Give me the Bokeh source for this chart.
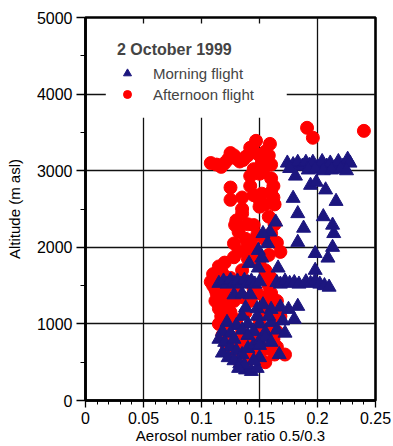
from bokeh.plotting import figure
from bokeh.models import Range1d, FixedTicker, Legend, LegendItem, BoxAnnotation
from bokeh.embed import file_html
from bokeh.resources import INLINE

# ---------------- data ----------------
afternoon_ratio = [
    0.191, 0.196, 0.240,
    0.108, 0.113, 0.117, 0.120, 0.123, 0.125, 0.128, 0.130, 0.133, 0.136, 0.138, 0.140, 0.142,
    0.145, 0.147, 0.150, 0.152, 0.155, 0.159, 0.158, 0.160, 0.145, 0.142, 0.150, 0.153, 0.160, 0.162,
    0.125, 0.125, 0.142, 0.145, 0.150, 0.152, 0.160, 0.162, 0.163, 0.135, 0.150, 0.155, 0.135, 0.129,
    0.145, 0.132, 0.138, 0.140, 0.148, 0.155, 0.160, 0.168, 0.128, 0.138, 0.145, 0.150, 0.158, 0.165,
    0.135, 0.155, 0.118, 0.112, 0.110, 0.113, 0.112, 0.115, 0.117, 0.120, 0.122, 0.125, 0.128, 0.130,
    0.133, 0.136, 0.140, 0.143, 0.145, 0.148, 0.150, 0.152, 0.155, 0.158, 0.160, 0.156, 0.160, 0.163,
    0.160, 0.162, 0.165, 0.172, 0.157, 0.150, 0.120, 0.125, 0.130, 0.140, 0.145, 0.135, 0.128, 0.120,
    0.125, 0.130, 0.138, 0.142, 0.148, 0.155, 0.125, 0.135, 0.140, 0.132, 0.137, 0.145, 0.118, 0.163,
    0.165,
    0.112, 0.108, 0.110, 0.115, 0.120, 0.118, 0.115, 0.118, 0.122, 0.127, 0.160, 0.165, 0.168, 0.163,
    0.155, 0.130, 0.135, 0.140, 0.158, 0.163, 0.128, 0.132, 0.140, 0.150,
]
afternoon_alt = [
    3560, 3430, 3520,
    3100, 3080, 3050, 3100, 3150, 3230, 3200, 3160, 3120, 3140, 3180, 3200, 3300,
    3250, 3390, 3200, 3100, 3250, 3350, 3200, 3080, 3020, 2930, 2960, 2980, 2900, 2800,
    2780, 2620, 2800, 2680, 2620, 2700, 2720, 2650, 2560, 2500, 2530, 2560, 2440, 2290,
    2290, 2200, 2110, 2050, 2160, 2100, 2180, 1940, 1870, 1950, 2000, 1880, 1900, 2060,
    1700, 1700, 1660, 1570, 1500, 1400, 1300, 1200, 1100, 1000, 900, 800, 700, 600,
    500, 440, 520, 650, 760, 900, 1050, 1200, 1350, 1500, 1600, 1250, 1130, 1050,
    950, 800, 700, 600, 680, 600, 1450, 1600, 1500, 1550, 1450, 1350, 1300, 1250,
    1150, 1050, 1150, 1300, 1400, 1600, 1000, 900, 800, 750, 650, 560, 1350, 1200,
    900,
    1450, 1550, 1650, 1750, 1800, 1150, 1000, 850, 700, 600, 1400, 1300, 1100, 600,
    500, 2350, 2650, 2300, 2400, 2300, 2050, 1950, 1850, 1780,
]

morning_ratio = [
    0.174, 0.179, 0.183, 0.187, 0.190, 0.193, 0.196, 0.200, 0.204, 0.208, 0.211, 0.215, 0.218, 0.222,
    0.226, 0.228, 0.176, 0.192, 0.198, 0.205, 0.212, 0.220, 0.225,
    0.181, 0.194, 0.199, 0.207, 0.179, 0.216, 0.183, 0.205, 0.188, 0.213, 0.214, 0.183, 0.213, 0.198,
    0.209, 0.198, 0.164, 0.159, 0.153, 0.157, 0.149, 0.152, 0.141, 0.149, 0.166,
    0.115, 0.119, 0.122, 0.125, 0.128, 0.131, 0.134, 0.137, 0.140, 0.143, 0.146, 0.150, 0.165, 0.168,
    0.172, 0.176, 0.180, 0.184, 0.190, 0.194, 0.198, 0.202, 0.206, 0.210,
    0.128, 0.135, 0.142,
    0.183, 0.175, 0.168, 0.160, 0.148, 0.138, 0.135, 0.148, 0.180, 0.170, 0.160, 0.150, 0.140, 0.130,
    0.122, 0.118, 0.125, 0.135, 0.145, 0.155, 0.165, 0.172, 0.158, 0.153,
    0.115, 0.120, 0.125, 0.130, 0.135, 0.140, 0.145, 0.150, 0.155, 0.160, 0.118, 0.123, 0.128, 0.133,
    0.138, 0.143, 0.148, 0.150, 0.145, 0.167, 0.150, 0.128, 0.140, 0.137, 0.132,
]
morning_alt = [
    3100, 3080, 3110, 3060, 3110, 3070, 3110, 3050, 3120, 3060, 3100, 3040, 3120, 3060,
    3150, 3100, 3030, 3010, 3020, 3000, 3010, 3020, 3000,
    2930, 2810, 2850, 2750, 2640, 2600, 2440, 2400, 2250, 2290, 2180, 2065, 2000, 1920,
    1860, 1700, 2330, 2200, 2180, 2050, 1960, 1860, 1790, 1730, 1730,
    1530, 1560, 1520, 1570, 1530, 1560, 1520, 1570, 1540, 1560, 1520, 1550, 1540, 1520,
    1560, 1530, 1540, 1520, 1550, 1530, 1560, 1520, 1500, 1480,
    1380, 1390, 1380,
    1230, 1190, 1220, 1190, 1200, 1210, 1100, 1100, 1060, 1040, 1020, 1000, 1000, 980,
    1020, 900, 880, 920, 900, 890, 920, 880, 1100, 1250,
    800, 760, 700, 650, 600, 680, 720, 780, 820, 760, 620, 560, 520, 480,
    400, 380, 420, 560, 520, 600, 720, 800, 850, 460, 420,
]

x_ticks = [0, 0.05, 0.1, 0.15, 0.2, 0.25]
x_tick_labels = ["0", "0.05", "0.1", "0.15", "0.2", "0.25"]
x_minor = [round(i * 0.01, 2) for i in range(26)]
y_ticks = [0, 1000, 2000, 3000, 4000, 5000]
y_minor = [500, 1500, 2500, 3500, 4500]

title_text = "2 October 1999"
morning_label = "Morning flight"
afternoon_label = "Afternoon flight"

FONT = "Liberation Sans"

# ---------------- figure ----------------
p = figure(width=393, height=446, x_range=Range1d(0, 0.25), y_range=Range1d(0, 5000),
           output_backend="svg", toolbar_location=None,
           min_border_left=85, min_border_right=18, min_border_top=17, min_border_bottom=45)
p.background_fill_color = "white"
p.border_fill_color = "white"
p.outline_line_color = "black"
p.outline_line_width = 2.6
p.outline_line_alpha = 1.0

# grid
for g, t in ((p.xgrid, x_ticks), (p.ygrid, y_ticks)):
    g.ticker = FixedTicker(ticks=t)
    g.grid_line_color = "#111111"
    g.grid_line_width = 1.3

# white area under the legend (hides the grid there, leaving short tick-like stubs at the top)
p.add_layout(BoxAnnotation(left=0.0175, right=0.1735, bottom=3690, top=4922,
                           fill_color="white", fill_alpha=1.0, line_color=None,
                           level="underlay"))

# axes
xa = p.xaxis[0]
xa.ticker = FixedTicker(ticks=x_ticks, minor_ticks=x_minor)
xa.major_label_overrides = {t: l for t, l in zip(x_ticks, x_tick_labels)}
xa.axis_label = "Aerosol number ratio 0.5/0.3"
ya = p.yaxis[0]
ya.ticker = FixedTicker(ticks=y_ticks, minor_ticks=y_minor)
ya.axis_label = "Altitude (m asl)"
for ax in (xa, ya):
    ax.axis_line_width = 2.6
    ax.axis_line_color = "black"
    ax.major_tick_line_color = "black"
    ax.minor_tick_line_color = "black"
    ax.major_tick_line_width = 1.3
    ax.minor_tick_line_width = 1
    ax.major_tick_in = 0
    ax.minor_tick_in = 0
    ax.major_label_text_font = FONT
    ax.major_label_text_font_size = "16px"
    ax.major_label_text_color = "black"
    ax.axis_label_text_font = FONT
    ax.axis_label_text_font_size = "15px"
    ax.axis_label_text_font_style = "normal"
    ax.axis_label_text_color = "black"
xa.major_tick_out = 7
xa.minor_tick_out = 4
xa.major_label_standoff = 4
xa.axis_label_standoff = 0
ya.major_tick_out = 9
ya.minor_tick_out = 5
ya.major_label_standoff = 4
ya.axis_label_standoff = 11

# data
r_aft = p.scatter(afternoon_ratio, afternoon_alt, marker="circle", size=13,
                  fill_color="#ff0000", line_color="#ff0000")
r_mor = p.scatter(morning_ratio, morning_alt, marker="triangle", size=14,
                  fill_color="#1c167f", line_color="#1c167f")

legend = Legend(items=[LegendItem(label=morning_label, renderers=[r_mor]),
                       LegendItem(label=afternoon_label, renderers=[r_aft])],
                location=(32, 296), title=title_text)
legend.title_text_font = FONT
legend.title_text_font_size = "16px"
legend.title_text_font_style = "bold"
legend.title_standoff = 4
legend.label_text_font = FONT
legend.label_text_font_size = "15px"
legend.label_standoff = 16
legend.glyph_width = 20
legend.glyph_height = 20
legend.label_height = 20
legend.spacing = 1
legend.padding = 10
legend.margin = 0
legend.border_line_color = None
legend.background_fill_alpha = 0
p.add_layout(legend, "center")

open("out.html", "w").write(file_html(p, INLINE))
